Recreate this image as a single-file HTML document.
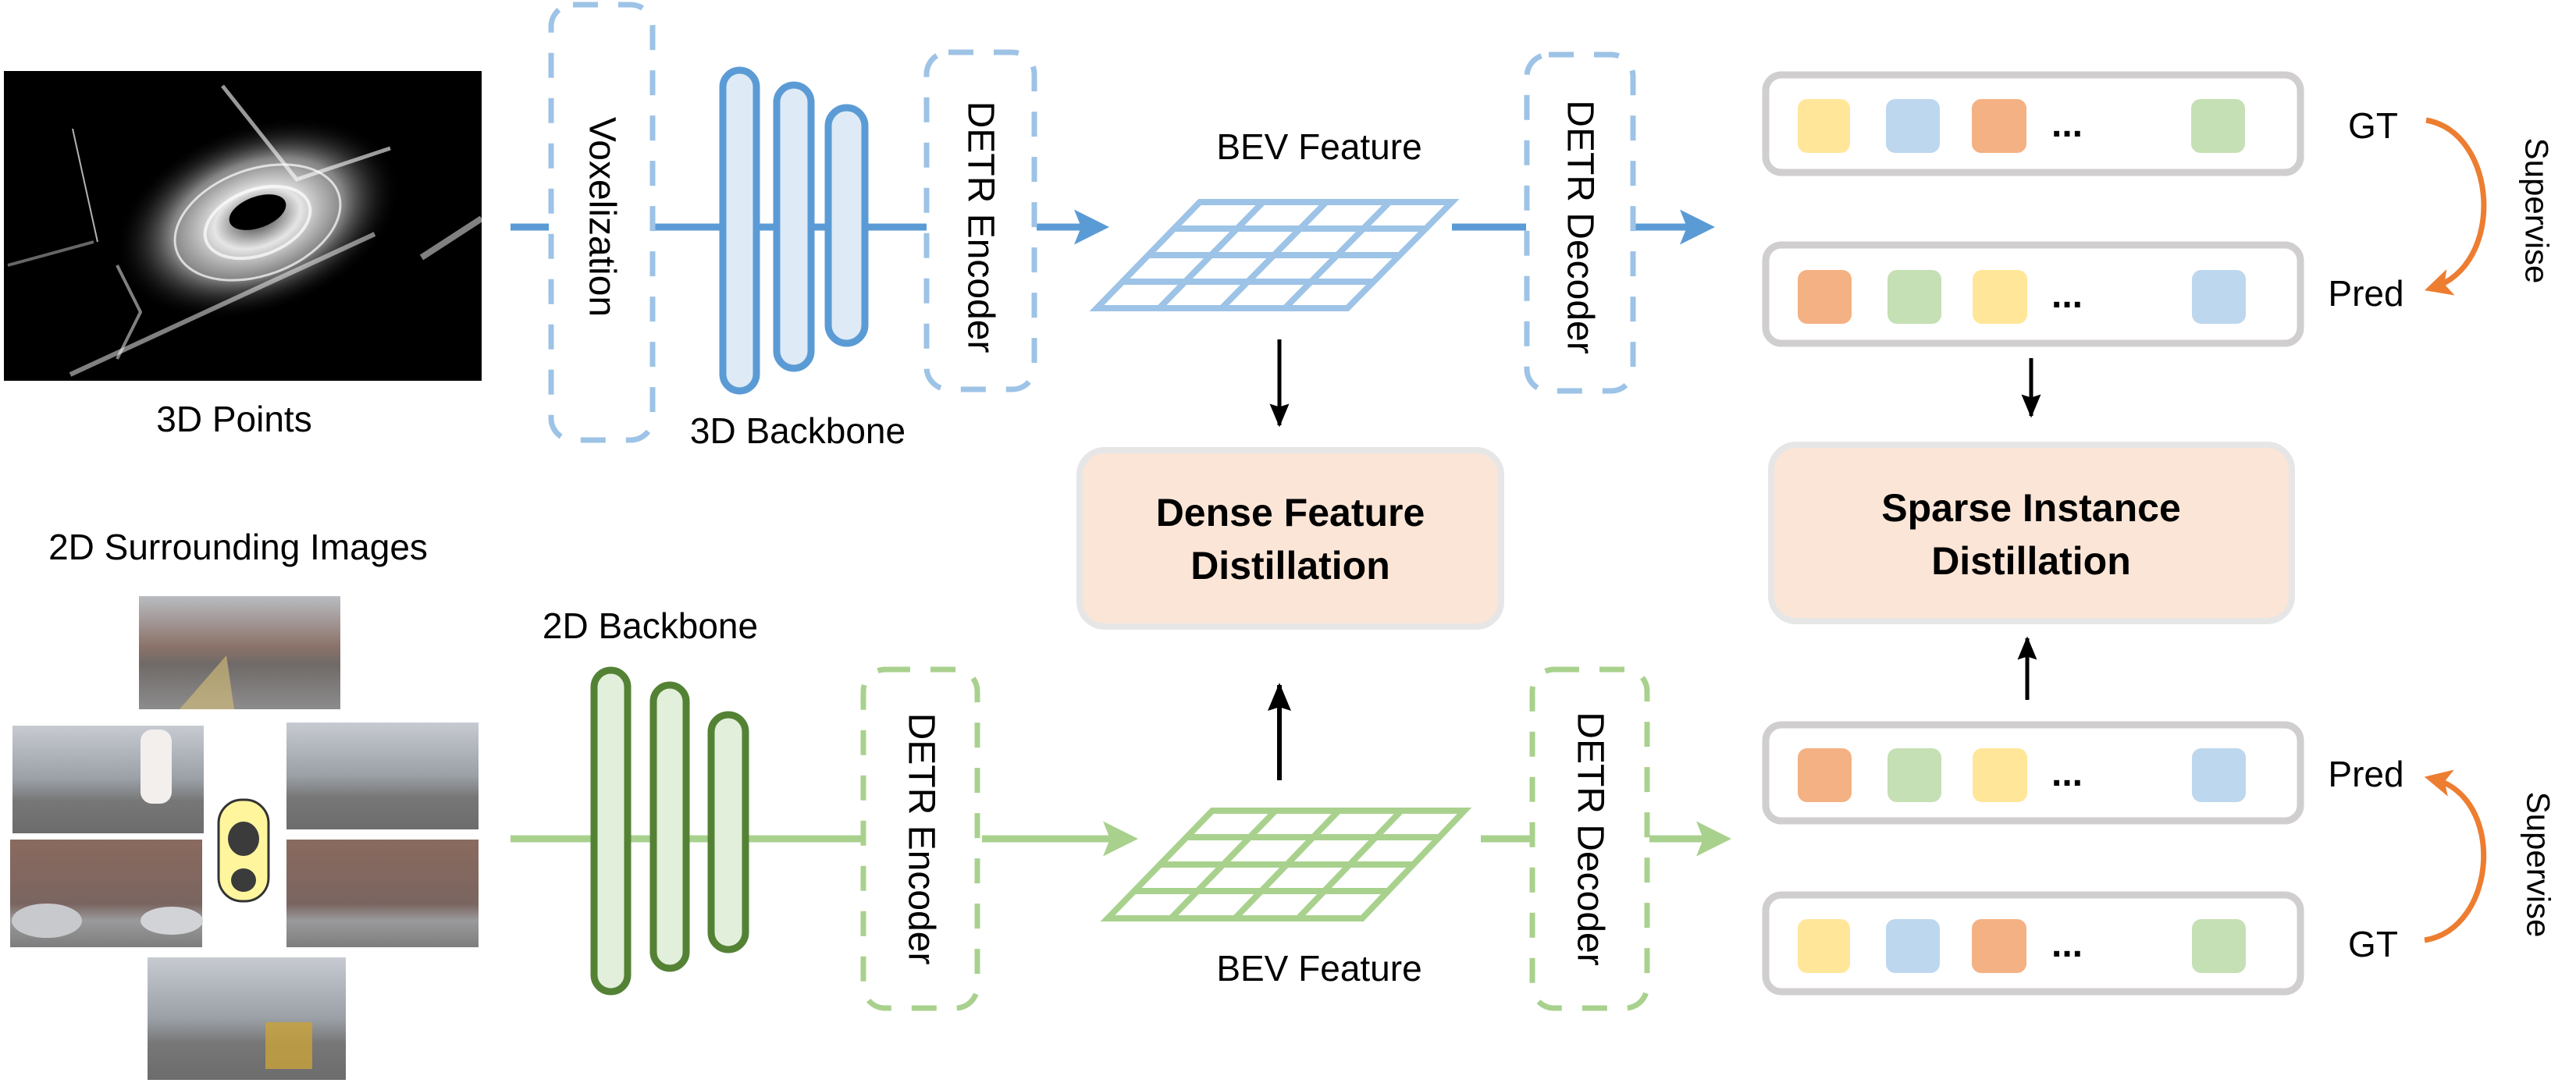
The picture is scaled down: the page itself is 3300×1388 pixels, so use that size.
<!DOCTYPE html>
<html><head><meta charset="utf-8"><style>
html,body{margin:0;padding:0;background:#fff;}
svg{display:block;}
text{font-family:"Liberation Sans",sans-serif;}
</style></head><body>
<svg width="3300" height="1388" viewBox="0 0 3300 1388" xmlns="http://www.w3.org/2000/svg">
<defs>
<marker id="ab" markerWidth="5" markerHeight="5" refX="4" refY="2.5" orient="auto" markerUnits="strokeWidth"><path d="M0,0 L5,2.5 L0,5 L1,2.5 z" fill="#5b9bd5"/></marker>
<marker id="ag" markerWidth="5" markerHeight="5" refX="4" refY="2.5" orient="auto" markerUnits="strokeWidth"><path d="M0,0 L5,2.5 L0,5 L1,2.5 z" fill="#a9d18e"/></marker>
<marker id="ak" markerWidth="6" markerHeight="5" refX="5.5" refY="2.5" orient="auto" markerUnits="strokeWidth"><path d="M0,0 L6,2.5 L0,5 L0.8,2.5 z" fill="#000"/></marker>
<marker id="ao" markerWidth="5" markerHeight="5" refX="3.5" refY="2.5" orient="auto" markerUnits="strokeWidth"><path d="M0,0 L5,2.5 L0,5 L1.2,2.5 z" fill="#ed7d31"/></marker>
<radialGradient id="pc" cx="0.5" cy="0.5" r="0.5"><stop offset="0" stop-color="#fff" stop-opacity="0.2"/><stop offset="0.3" stop-color="#fff" stop-opacity="0.9"/><stop offset="0.6" stop-color="#ddd" stop-opacity="0.6"/><stop offset="1" stop-color="#000" stop-opacity="0"/></radialGradient>
<linearGradient id="sky" x1="0" y1="0" x2="0" y2="1"><stop offset="0" stop-color="#b9bcc2"/><stop offset="0.45" stop-color="#8b7268"/><stop offset="0.6" stop-color="#6f6a68"/><stop offset="1" stop-color="#8d8c8c"/></linearGradient>
<linearGradient id="sky2" x1="0" y1="0" x2="0" y2="1"><stop offset="0" stop-color="#8a6a5e"/><stop offset="0.6" stop-color="#7a6560"/><stop offset="0.75" stop-color="#9a9a9c"/><stop offset="1" stop-color="#7e7d7e"/></linearGradient>
<linearGradient id="sky3" x1="0" y1="0" x2="0" y2="1"><stop offset="0" stop-color="#c7cbd1"/><stop offset="0.5" stop-color="#9aa0a6"/><stop offset="0.7" stop-color="#777"/><stop offset="1" stop-color="#6d6c6c"/></linearGradient>
</defs>

<!-- Point cloud -->
<rect x="5" y="91" width="612" height="397" fill="#000"/>
<ellipse cx="330" cy="280" rx="190" ry="120" fill="url(#pc)" transform="rotate(-20 330 280)"/>
<ellipse cx="330" cy="272" rx="38" ry="20" fill="#000" transform="rotate(-20 330 272)"/>
<g fill="none" stroke="#fff" stroke-opacity="0.7">
<ellipse cx="330" cy="285" rx="70" ry="42" stroke-width="4" transform="rotate(-20 330 285)"/>
<ellipse cx="330" cy="285" rx="110" ry="68" stroke-width="3" transform="rotate(-20 330 285)"/>
<path d="M90 480 L480 300" stroke-width="6" stroke-opacity="0.5"/>
<path d="M285 110 L380 230 L500 190" stroke-width="5" stroke-opacity="0.6"/>
<path d="M540 330 L617 280" stroke-width="8" stroke-opacity="0.5"/>
<path d="M93 165 L125 310" stroke-width="2"/>
<path d="M150 340 L180 400 L150 460" stroke-width="4" stroke-opacity="0.5"/>
<path d="M10 340 L120 310" stroke-width="4" stroke-opacity="0.4"/>
</g>
<text x="300" y="553" font-size="46" text-anchor="middle">3D Points</text>

<!-- top blue pipeline -->
<g stroke="#5b9bd5" stroke-width="9" fill="none">
<line x1="654" y1="291" x2="703" y2="291"/>
<line x1="839" y1="291" x2="1187" y2="291"/>
<line x1="1328" y1="291" x2="1412" y2="291" marker-end="url(#ab)"/>
<line x1="1860" y1="291" x2="1955" y2="291"/>
<line x1="2094" y1="291" x2="2188" y2="291" marker-end="url(#ab)"/>
</g>
<g fill="none" stroke="#9dc3e6" stroke-width="7" stroke-dasharray="32,26">
<rect x="706" y="6" width="130" height="558" rx="28"/>
<rect x="1187" y="67" width="138" height="432" rx="28"/>
<rect x="1956" y="70" width="136" height="431" rx="28"/>
</g>
<text transform="translate(771,278) rotate(90)" font-size="48" text-anchor="middle" dominant-baseline="central">Voxelization</text>
<text transform="translate(1256,291) rotate(90)" font-size="48" text-anchor="middle" dominant-baseline="central">DETR Encoder</text>
<text transform="translate(2024,291) rotate(90)" font-size="48" text-anchor="middle" dominant-baseline="central">DETR Decoder</text>
<g fill="#deeaf6" stroke="#5b9bd5" stroke-width="9">
<rect x="926" y="90" width="43" height="411" rx="21.5"/>
<rect x="995" y="109" width="44" height="363" rx="22"/>
<rect x="1061" y="138" width="47" height="302" rx="23.5"/>
</g>
<text x="1022" y="568" font-size="46" text-anchor="middle">3D Backbone</text>
<text x="1690" y="204" font-size="46" text-anchor="middle">BEV Feature</text>
<g stroke="#9dc3e6" stroke-width="8" fill="none">
<path d="M1537 259 L1860 259 L1726 395 L1405 395 Z"/>
<line x1="1504" y1="293" x2="1827" y2="293"/>
<line x1="1471" y1="327" x2="1793" y2="327"/>
<line x1="1438" y1="361" x2="1760" y2="361"/>
<line x1="1618" y1="259" x2="1485" y2="395"/>
<line x1="1699" y1="259" x2="1565" y2="395"/>
<line x1="1780" y1="259" x2="1646" y2="395"/>
</g>
<line x1="1639" y1="435" x2="1639" y2="545" stroke="#000" stroke-width="5" marker-end="url(#ak)"/>

<!-- distillation boxes -->
<rect x="1383" y="577" width="540" height="226" rx="32" fill="#fbe5d6" stroke="#e6e6e6" stroke-width="8"/>
<text x="1653" y="674" font-size="50" font-weight="bold" text-anchor="middle">Dense Feature</text>
<text x="1653" y="742" font-size="50" font-weight="bold" text-anchor="middle">Distillation</text>
<rect x="2269" y="570" width="667" height="226" rx="32" fill="#fbe5d6" stroke="#e6e6e6" stroke-width="8"/>
<text x="2602" y="668" font-size="50" font-weight="bold" text-anchor="middle">Sparse Instance</text>
<text x="2602" y="736" font-size="50" font-weight="bold" text-anchor="middle">Distillation</text>

<!-- token rows -->
<g fill="#fff" stroke="#d0cece" stroke-width="9">
<rect x="2262" y="96" width="685" height="125" rx="20"/>
<rect x="2262" y="314" width="685" height="126" rx="20"/>
<rect x="2262" y="929" width="685" height="123" rx="20"/>
<rect x="2262" y="1147" width="685" height="124" rx="20"/>
</g>
<g>
<rect x="2303" y="127" width="67" height="69" rx="12" fill="#ffe699"/>
<rect x="2416" y="127" width="69" height="69" rx="12" fill="#bdd7ee"/>
<rect x="2526" y="127" width="70" height="69" rx="12" fill="#f4b183"/>
<rect x="2807" y="127" width="69" height="69" rx="12" fill="#c5e0b4"/>
<rect x="2303" y="346" width="69" height="69" rx="12" fill="#f4b183"/>
<rect x="2418" y="346" width="69" height="69" rx="12" fill="#c5e0b4"/>
<rect x="2527" y="346" width="70" height="69" rx="12" fill="#ffe699"/>
<rect x="2808" y="346" width="69" height="69" rx="12" fill="#bdd7ee"/>
<rect x="2303" y="959" width="69" height="69" rx="12" fill="#f4b183"/>
<rect x="2418" y="959" width="69" height="69" rx="12" fill="#c5e0b4"/>
<rect x="2527" y="959" width="70" height="69" rx="12" fill="#ffe699"/>
<rect x="2808" y="959" width="69" height="69" rx="12" fill="#bdd7ee"/>
<rect x="2303" y="1178" width="67" height="69" rx="12" fill="#ffe699"/>
<rect x="2416" y="1178" width="69" height="69" rx="12" fill="#bdd7ee"/>
<rect x="2526" y="1178" width="70" height="69" rx="12" fill="#f4b183"/>
<rect x="2808" y="1178" width="69" height="69" rx="12" fill="#c5e0b4"/>
</g>
<g font-size="48" font-weight="bold" text-anchor="middle">
<text x="2648" y="175">...</text>
<text x="2648" y="394">...</text>
<text x="2648" y="1007">...</text>
<text x="2648" y="1226">...</text>
</g>
<text x="3040" y="177" font-size="46" text-anchor="middle">GT</text>
<text x="3031" y="392" font-size="46" text-anchor="middle">Pred</text>
<text x="3031" y="1008" font-size="46" text-anchor="middle">Pred</text>
<text x="3040" y="1226" font-size="46" text-anchor="middle">GT</text>
<path d="M3108 154 C3200 170 3210 340 3116 369" fill="none" stroke="#ed7d31" stroke-width="7" marker-end="url(#ao)"/>
<path d="M3106 1205 C3200 1190 3210 1020 3116 998" fill="none" stroke="#ed7d31" stroke-width="7" marker-end="url(#ao)"/>
<text transform="translate(3250,270) rotate(90)" font-size="42" text-anchor="middle" dominant-baseline="central">Supervise</text>
<text transform="translate(3252,1108) rotate(90)" font-size="42" text-anchor="middle" dominant-baseline="central">Supervise</text>
<line x1="2602" y1="459" x2="2602" y2="533" stroke="#000" stroke-width="5" marker-end="url(#ak)"/>
<line x1="2597" y1="897" x2="2597" y2="818" stroke="#000" stroke-width="5" marker-end="url(#ak)"/>

<!-- bottom -->
<text x="305" y="717" font-size="46" text-anchor="middle">2D Surrounding Images</text>
<rect x="178" y="764" width="258" height="145" fill="url(#sky)"/>
<path d="M230 909 L290 840 L300 909 Z" fill="#d9c27a" opacity="0.6"/>
<rect x="16" y="930" width="245" height="138" fill="url(#sky3)"/>
<rect x="180" y="935" width="40" height="95" rx="15" fill="#f2efec"/>
<rect x="367" y="926" width="246" height="137" fill="url(#sky3)"/>
<rect x="13" y="1076" width="246" height="138" fill="url(#sky2)"/>
<ellipse cx="60" cy="1180" rx="45" ry="22" fill="#c8c9cc"/>
<ellipse cx="220" cy="1180" rx="40" ry="18" fill="#d2d3d6"/>
<rect x="367" y="1076" width="246" height="138" fill="url(#sky2)"/>
<rect x="189" y="1227" width="254" height="157" fill="url(#sky3)"/>
<rect x="340" y="1310" width="60" height="60" fill="#c9a33a" opacity="0.8"/>
<rect x="280" y="1025" width="64" height="130" rx="30" fill="#fff59d" stroke="#333" stroke-width="3"/>
<ellipse cx="312" cy="1075" rx="20" ry="22" fill="#3b3b3b"/>
<ellipse cx="312" cy="1128" rx="16" ry="15" fill="#3b3b3b"/>

<g stroke="#a9d18e" stroke-width="9" fill="none">
<line x1="654" y1="1075" x2="1105" y2="1075"/>
<line x1="1258" y1="1075" x2="1449" y2="1075" marker-end="url(#ag)"/>
<line x1="1897" y1="1075" x2="1960" y2="1075"/>
<line x1="2113" y1="1075" x2="2209" y2="1075" marker-end="url(#ag)"/>
</g>
<g fill="none" stroke="#a9d18e" stroke-width="7" stroke-dasharray="32,26">
<rect x="1106" y="858" width="146" height="434" rx="28"/>
<rect x="1963" y="858" width="147" height="434" rx="28"/>
</g>
<text transform="translate(1180,1075) rotate(90)" font-size="48" text-anchor="middle" dominant-baseline="central">DETR Encoder</text>
<text transform="translate(2037,1075) rotate(90)" font-size="48" text-anchor="middle" dominant-baseline="central">DETR Decoder</text>
<g fill="#e2efda" stroke="#548235" stroke-width="9">
<rect x="761" y="859" width="43" height="412" rx="21.5"/>
<rect x="837" y="878" width="42" height="363" rx="21"/>
<rect x="911" y="916" width="44" height="301" rx="22"/>
</g>
<text x="833" y="818" font-size="46" text-anchor="middle">2D Backbone</text>
<g stroke="#a9d18e" stroke-width="8" fill="none">
<path d="M1553 1039 L1876 1039 L1745 1177 L1419 1177 Z"/>
<line x1="1520" y1="1073" x2="1843" y2="1073"/>
<line x1="1486" y1="1108" x2="1810" y2="1108"/>
<line x1="1453" y1="1142" x2="1778" y2="1142"/>
<line x1="1634" y1="1039" x2="1500" y2="1177"/>
<line x1="1715" y1="1039" x2="1582" y2="1177"/>
<line x1="1795" y1="1039" x2="1663" y2="1177"/>
</g>
<text x="1690" y="1257" font-size="46" text-anchor="middle">BEV Feature</text>
<line x1="1639" y1="1000" x2="1639" y2="878" stroke="#000" stroke-width="6" marker-end="url(#ak)"/>
</svg>
</body></html>
